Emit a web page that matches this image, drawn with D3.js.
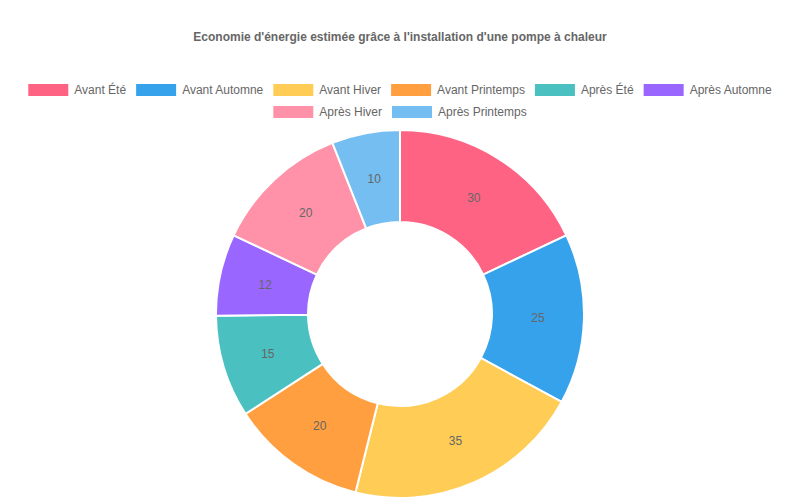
<!DOCTYPE html>
<html>
<head>
<meta charset="utf-8">
<script src="https://cdn.jsdelivr.net/npm/d3@7"></script>
<style>
  body { margin: 0; background: #fff; }
  svg { display: block; font-family: "Liberation Sans", Arial, Helvetica, sans-serif; }
</style>
</head>
<body>
<svg id="chart" width="800" height="500"></svg>
<script>
// chart data
var labels = ["Avant Été", "Avant Automne", "Avant Hiver", "Avant Printemps",
              "Après Été", "Après Automne", "Après Hiver", "Après Printemps"];
var values = [30, 25, 35, 20, 15, 12, 20, 10];
var colors = ["#ff6384", "#36a2eb", "#ffcd56", "#ff9f40",
              "#4bc0c0", "#9966ff", "#ff92a8", "#74bef1"];
var title = "Economie d'énergie estimée grâce à l'installation d'une pompe à chaleur";

var svg = d3.select("#chart");
var W = 800, H = 500;

// title
svg.append("text")
    .attr("x", W / 2)
    .attr("y", 41)
    .attr("text-anchor", "middle")
    .attr("font-size", 12)
    .attr("font-weight", "bold")
    .attr("fill", "#666")
    .text(title);

// legend, centered rows like chart.js
var boxW = 40, boxH = 12, fontSize = 12, pad = 10, maxW = 780;
var measure = svg.append("text").attr("font-size", fontSize);
var items = labels.map(function(l, i) {
    measure.text(l);
    var tw = measure.node().getComputedTextLength();
    return {label: l, color: colors[i], w: boxW + fontSize / 2 + tw};
});
measure.remove();

var rows = [[]], rowW = [0];
items.forEach(function(it) {
    var r = rows.length - 1;
    var add = (rows[r].length ? pad : 0) + it.w;
    if (rowW[r] + add > maxW && rows[r].length) {
        rows.push([it]); rowW.push(it.w);
    } else {
        rows[r].push(it); rowW[r] += add;
    }
});

var legend = svg.append("g");
rows.forEach(function(row, r) {
    var x = (W - rowW[r]) / 2;
    var y = 84 + r * 22;
    row.forEach(function(it) {
        legend.append("rect")
            .attr("x", x).attr("y", y)
            .attr("width", boxW).attr("height", boxH)
            .attr("fill", it.color);
        legend.append("text")
            .attr("x", x + boxW + fontSize / 2)
            .attr("y", y + boxH / 2)
            .attr("dy", "0.35em")
            .attr("font-size", fontSize)
            .attr("fill", "#666")
            .text(it.label);
        x += it.w + pad;
    });
});

// doughnut
var cx = 400, cy = 314, outerR = 184, innerR = 92;
var pie = d3.pie().sort(null).value(function(d) { return d; });
var arc = d3.arc().innerRadius(innerR).outerRadius(outerR);
var labelArc = d3.arc().innerRadius((innerR + outerR) / 2).outerRadius((innerR + outerR) / 2);

var g = svg.append("g").attr("transform", "translate(" + cx + "," + cy + ")");
var arcs = pie(values);

g.selectAll("path.slice")
    .data(arcs)
  .enter().append("path")
    .attr("class", "slice")
    .attr("d", arc)
    .attr("fill", function(d, i) { return colors[i]; })
    .attr("stroke", "#fff")
    .attr("stroke-width", 2);

g.selectAll("text.val")
    .data(arcs)
  .enter().append("text")
    .attr("class", "val")
    .attr("transform", function(d) { return "translate(" + labelArc.centroid(d) + ")"; })
    .attr("text-anchor", "middle")
    .attr("dy", "0.35em")
    .attr("font-size", 12)
    .attr("fill", "#666")
    .text(function(d) { return d.data; });
</script>
</body>
</html>
